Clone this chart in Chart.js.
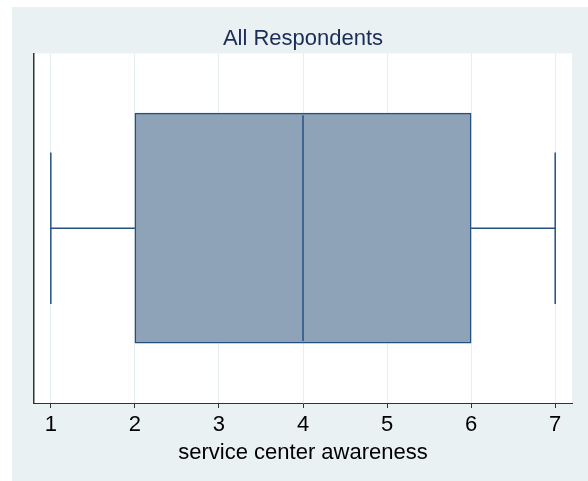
<!DOCTYPE html>
<html>
<head>
<meta charset="utf-8">
<script src="https://cdn.jsdelivr.net/npm/chart.js@4/dist/chart.umd.min.js"></script>
<style>
  html, body { margin: 0; padding: 0; background: #fff; overflow: hidden; }
  #wrap { width: 588px; height: 481px; }
  canvas { display: block; }
</style>
</head>
<body>
<div id="wrap"><canvas id="boxChart" width="588" height="481"></canvas></div>
<script>
// box plot data
const groupTitle = "All Respondents";
const axisTitle = "service center awareness";
const statMin = [1];
const statQ1 = [2];
const statMedian = [4];
const statQ3 = [6];
const statMax = [7];
const xTicks = [1, 2, 3, 4, 5, 6, 7];

// styles
const panelColor = "#EAF1F3";
const boxFill = "#8EA3B8";
const lineColor = "#24507F";
const boxHalf = 0.646;  // half-height of the box in y units
const capHalf = 0.433;  // half-height of whisker caps

// datasets
const whiskerLow = [{ x: statMin[0], y: 0 }, { x: statQ1[0], y: 0 }];
const whiskerHigh = [{ x: statQ3[0], y: 0 }, { x: statMax[0], y: 0 }];
const capLow = [{ x: statMin[0], y: -capHalf }, { x: statMin[0], y: capHalf }];
const capHigh = [{ x: statMax[0], y: -capHalf }, { x: statMax[0], y: capHalf }];
const medianLine = [{ x: statMedian[0], y: -boxHalf }, { x: statMedian[0], y: boxHalf }];

function lineSet(data) {
  return {
    type: "line",
    data: data,
    borderColor: lineColor,
    borderWidth: 1.5,
    pointRadius: 0,
    fill: false,
    order: 0,
  };
}

const backdrop = {
  id: "backdrop",
  beforeDraw(chart) {
    const ctx = chart.ctx;
    const a = chart.chartArea;
    ctx.save();
    ctx.fillStyle = "#ffffff";
    ctx.fillRect(0, 0, chart.width, chart.height);
    ctx.fillStyle = panelColor;
    ctx.fillRect(12, 7, chart.width - 12, chart.height - 7);
    ctx.fillStyle = "#ffffff";
    ctx.fillRect(a.left, a.top, a.right - a.left, a.bottom - a.top);
    ctx.restore();
  },
};

let ctx = document.getElementById("boxChart").getContext("2d");
let chart = new Chart(ctx, {
  type: "bar",
  data: {
    datasets: [
      lineSet(medianLine),
      lineSet(whiskerLow),
      lineSet(whiskerHigh),
      lineSet(capLow),
      lineSet(capHigh),
      {
        type: "bar",
        indexAxis: "y",
        data: [{ x: [statQ1[0], statQ3[0]], y: 0 }],
        backgroundColor: boxFill,
        borderColor: lineColor,
        borderWidth: 1.5,
        borderSkipped: false,
        barThickness: 230,
        order: 1,
      },
    ],
  },
  options: {
    responsive: false,
    animation: false,
    events: [],
    layout: { padding: { top: 26, left: 34, right: 16, bottom: 17 } },
    plugins: {
      legend: { display: false },
      tooltip: { enabled: false },
      title: {
        display: true,
        text: groupTitle,
        color: "#1C2C58",
        font: { family: "Liberation Sans, Arial, sans-serif", size: 22, weight: "normal", lineHeight: 1.2 },
        padding: { top: 0, bottom: 1 },
      },
    },
    scales: {
      x: {
        type: "linear",
        min: 0.8,
        max: 7.2,
        offset: false,
        afterBuildTicks: (scale) => {
          scale.ticks = xTicks.map((v) => ({ value: v }));
        },
        grid: {
          offset: false,
          color: "#E6EEF1",
          tickColor: "#333333",
          tickLength: 5,
          lineWidth: 1,
        },
        border: { display: true, color: "#333333", width: 1 },
        ticks: {
          color: "#000000",
          padding: 6,
          maxRotation: 0,
          font: { family: "Liberation Sans, Arial, sans-serif", size: 22, lineHeight: 1 },
        },
        title: {
          display: true,
          text: axisTitle,
          color: "#000000",
          padding: 0,
          font: { family: "Liberation Sans, Arial, sans-serif", size: 22, lineHeight: 1 },
        },
      },
      y: {
        type: "linear",
        min: -1,
        max: 1,
        offset: false,
        grid: { display: true, offset: false, drawOnChartArea: false, drawTicks: false },
        border: { display: true, color: "#333333", width: 1.5 },
        ticks: { display: false },
      },
    },
  },
  plugins: [backdrop],
});
</script>
</body>
</html>
